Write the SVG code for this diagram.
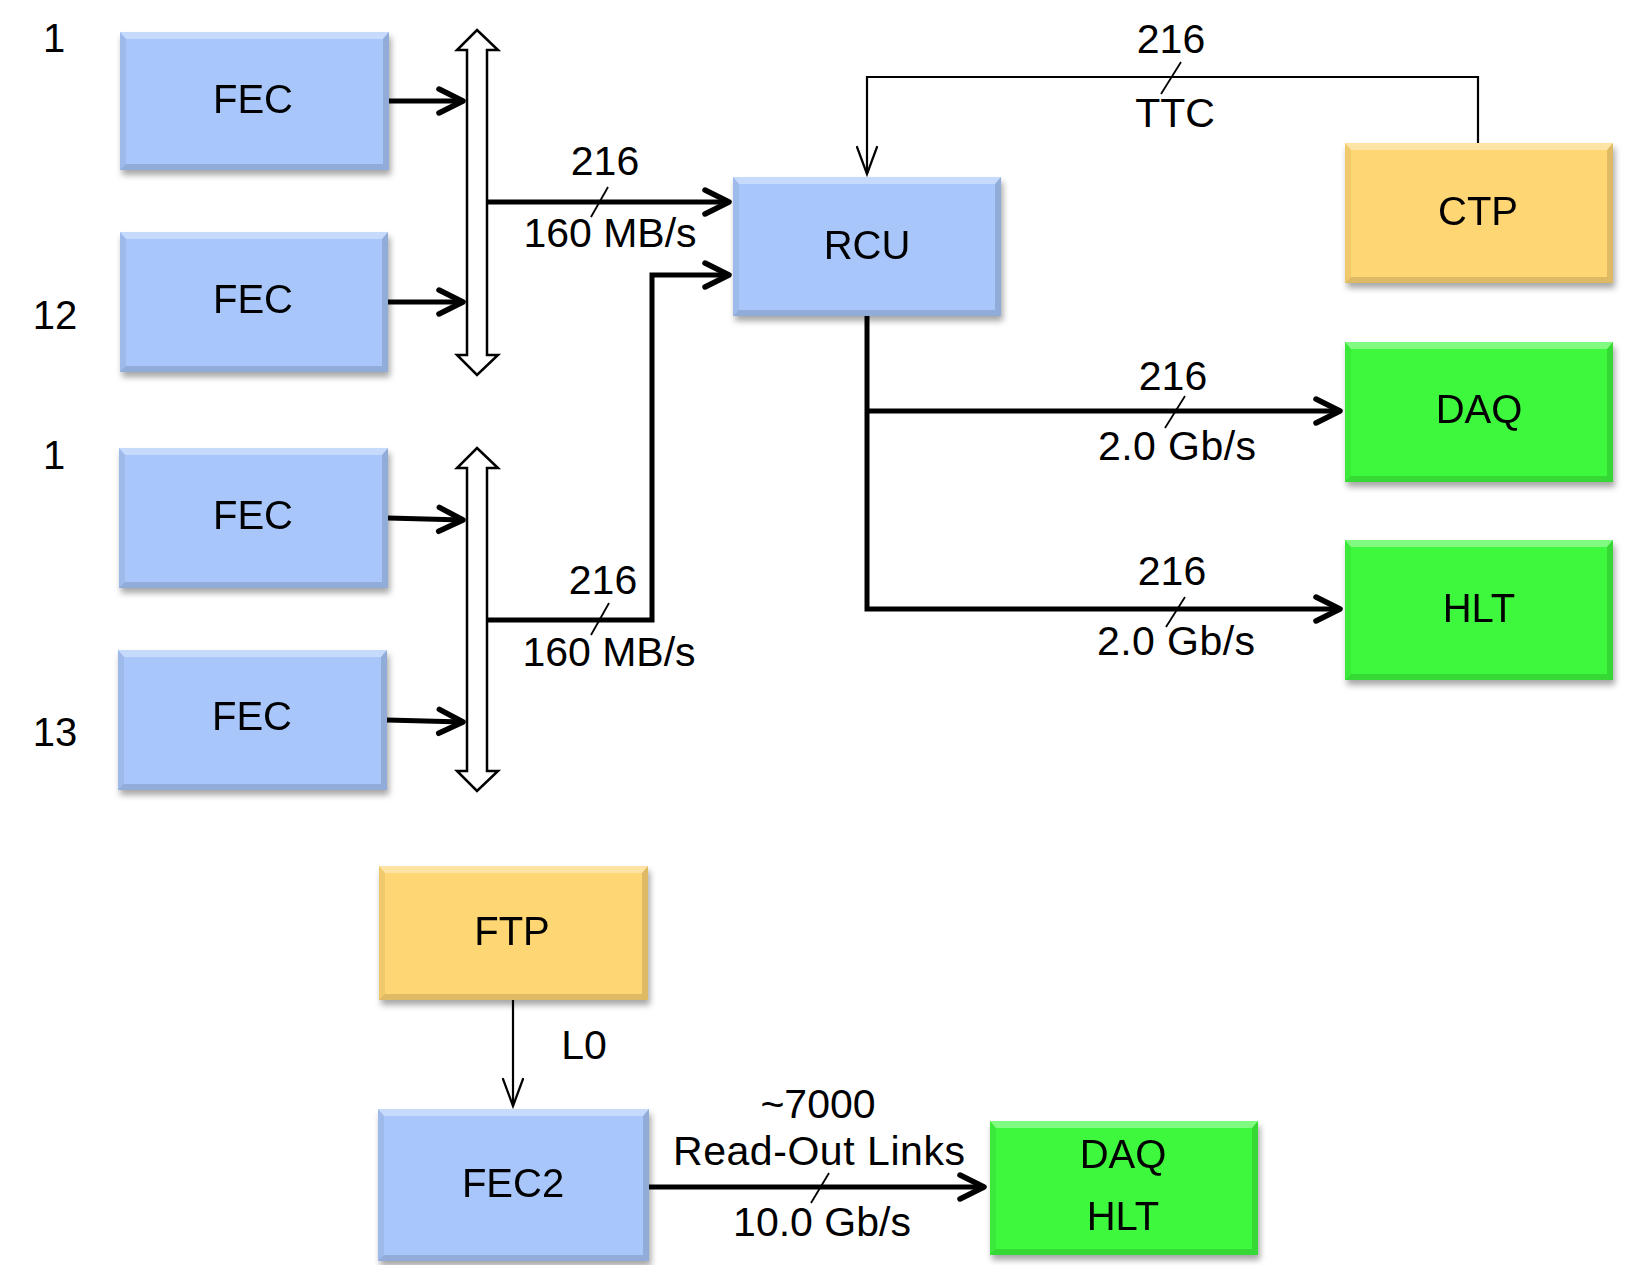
<svg xmlns="http://www.w3.org/2000/svg" width="1632" height="1265" viewBox="0 0 1632 1265">
<style>
text{font-family:"Liberation Sans",Arial,sans-serif;fill:#000}
.nl{font-size:40px;text-anchor:middle}
.lb{font-size:41px;text-anchor:middle}
.blue{fill:#a8c6fa}
.orange{fill:#fed673}
.green{fill:#3ef83e}
.hi{fill:#ffffff;opacity:0.35}
.dk{fill:#000000;opacity:0.13}
.dl{fill:#000000;opacity:0.06}
.thick{fill:none;stroke:#000;stroke-width:5;stroke-linejoin:miter}
.thin{fill:none;stroke:#000;stroke-width:2.2}
.slash{stroke:#000;stroke-width:1.8}
.bus{fill:#fff;stroke:#000;stroke-width:2.5;stroke-linejoin:miter}
</style>
<defs>
<filter id="sh" x="-10%" y="-10%" width="125%" height="130%">
<feDropShadow dx="2" dy="5" stdDeviation="3" flood-color="#000" flood-opacity="0.35"/>
</filter>
<marker id="ah" markerUnits="userSpaceOnUse" viewBox="-32 -18 38 36" markerWidth="38" markerHeight="36" refX="0" refY="0" orient="auto">
<path d="M-24,-12 L0,0 L-24,12" fill="none" stroke="#000" stroke-width="5.5" stroke-linecap="round" stroke-linejoin="round"/>
</marker>
<marker id="ahs" markerUnits="userSpaceOnUse" viewBox="-32 -14 36 28" markerWidth="36" markerHeight="28" refX="0" refY="0" orient="auto">
<path d="M-27,-10 L0,0 L-27,10" fill="none" stroke="#000" stroke-width="2.2" stroke-linecap="round"/>
</marker>
</defs>
<rect width="1632" height="1265" fill="#fff"/>

<g id="side-labels">
<text class="nl" x="54" y="52">1</text>
<text class="nl" x="55" y="329">12</text>
<text class="nl" x="54" y="469">1</text>
<text class="nl" x="55" y="746">13</text>
</g>

<g id="connectors">
<path class="thick" d="M389,101 L463,101" marker-end="url(#ah)"/>
<path class="thick" d="M388,302 L463,302" marker-end="url(#ah)"/>
<path class="thick" d="M388,518 L463,520" marker-end="url(#ah)"/>
<path class="thick" d="M387,720 L463,722" marker-end="url(#ah)"/>
<path class="thick" d="M487,202 L729,202" marker-end="url(#ah)"/>
<path class="thick" d="M487,620 L652,620 L652,275 L729,275" marker-end="url(#ah)"/>
<path class="thin" d="M1478,143 L1478,77 L867,77 L867,174" marker-end="url(#ahs)"/>
<path class="thick" d="M867,316 L867,609 L1340,609" marker-end="url(#ah)"/>
<path class="thick" d="M867,411 L1340,411" marker-end="url(#ah)"/>
<path class="thin" d="M513,1000 L513,1106" marker-end="url(#ahs)"/>
<path class="thick" d="M649,1187 L984,1187" marker-end="url(#ah)"/>
<line class="slash" x1="608" y1="187" x2="591" y2="217"/>
<line class="slash" x1="609" y1="603" x2="591" y2="635"/>
<line class="slash" x1="1181" y1="62" x2="1161" y2="94"/>
<line class="slash" x1="1185" y1="396" x2="1165" y2="428"/>
<line class="slash" x1="1185" y1="597" x2="1166" y2="627"/>
<line class="slash" x1="829" y1="1173" x2="811" y2="1203"/>
<text class="lb" x="605" y="175">216</text>
<text class="lb" x="610" y="247">160 MB/s</text>
<text class="lb" x="603" y="594">216</text>
<text class="lb" x="609" y="666">160 MB/s</text>
<text class="lb" x="1171" y="53">216</text>
<text class="lb" x="1175" y="127">TTC</text>
<text class="lb" x="1173" y="390">216</text>
<text class="lb" x="1177" y="460" textLength="158" lengthAdjust="spacing">2.0 Gb/s</text>
<text class="lb" x="1172" y="585">216</text>
<text class="lb" x="1176" y="655" textLength="158" lengthAdjust="spacing">2.0 Gb/s</text>
<text class="lb" x="584" y="1059">L0</text>
<text class="lb" x="818" y="1118">~7000</text>
<text class="lb" x="819" y="1165" textLength="292" lengthAdjust="spacing">Read-Out Links</text>
<text class="lb" x="822" y="1236">10.0 Gb/s</text>
</g>

<g id="bus1">
<path class="bus" d="M477,30 L498,50 L487,50 L487,355 L498,355 L477,375 L457,355 L467,355 L467,50 L457,50 Z"/>
</g>
<g id="bus2">
<path class="bus" d="M477,448 L498,468 L487,468 L487,771 L498,771 L477,791 L457,771 L467,771 L467,468 L457,468 Z"/>
</g>

<g id="fec1" filter="url(#sh)">
<rect class="blue" x="120" y="32" width="269" height="138"/>
<path class="hi" d="M120,32 H389 L383,39 H126 Z"/>
<path class="dk" d="M389,32 V170 L383,164 V39 Z"/>
<path class="dk" d="M120,170 H389 L383,164 H126 Z"/>
<path class="dl" d="M120,32 V170 L126,164 V39 Z"/>
<text class="nl" x="253" y="113">FEC</text>
</g>
<g id="fec2" filter="url(#sh)">
<rect class="blue" x="120" y="232" width="268" height="140"/>
<path class="hi" d="M120,232 H388 L382,239 H126 Z"/>
<path class="dk" d="M388,232 V372 L382,366 V239 Z"/>
<path class="dk" d="M120,372 H388 L382,366 H126 Z"/>
<path class="dl" d="M120,232 V372 L126,366 V239 Z"/>
<text class="nl" x="253" y="313">FEC</text>
</g>
<g id="fec3" filter="url(#sh)">
<rect class="blue" x="119" y="448" width="269" height="140"/>
<path class="hi" d="M119,448 H388 L382,455 H125 Z"/>
<path class="dk" d="M388,448 V588 L382,582 V455 Z"/>
<path class="dk" d="M119,588 H388 L382,582 H125 Z"/>
<path class="dl" d="M119,448 V588 L125,582 V455 Z"/>
<text class="nl" x="253" y="529">FEC</text>
</g>
<g id="fec4" filter="url(#sh)">
<rect class="blue" x="118" y="650" width="269" height="140"/>
<path class="hi" d="M118,650 H387 L381,657 H124 Z"/>
<path class="dk" d="M387,650 V790 L381,784 V657 Z"/>
<path class="dk" d="M118,790 H387 L381,784 H124 Z"/>
<path class="dl" d="M118,650 V790 L124,784 V657 Z"/>
<text class="nl" x="252" y="730">FEC</text>
</g>
<g id="rcu" filter="url(#sh)">
<rect class="blue" x="733" y="177" width="268" height="139"/>
<path class="hi" d="M733,177 H1001 L995,184 H739 Z"/>
<path class="dk" d="M1001,177 V316 L995,310 V184 Z"/>
<path class="dk" d="M733,316 H1001 L995,310 H739 Z"/>
<path class="dl" d="M733,177 V316 L739,310 V184 Z"/>
<text class="nl" x="867" y="259">RCU</text>
</g>
<g id="ctp" filter="url(#sh)">
<rect class="orange" x="1345" y="143" width="268" height="140"/>
<path class="hi" d="M1345,143 H1613 L1607,150 H1351 Z"/>
<path class="dk" d="M1613,143 V283 L1607,277 V150 Z"/>
<path class="dk" d="M1345,283 H1613 L1607,277 H1351 Z"/>
<path class="dl" d="M1345,143 V283 L1351,277 V150 Z"/>
<text class="nl" x="1478" y="225">CTP</text>
</g>
<g id="daq" filter="url(#sh)">
<rect class="green" x="1345" y="342" width="268" height="140"/>
<path class="hi" d="M1345,342 H1613 L1607,349 H1351 Z"/>
<path class="dk" d="M1613,342 V482 L1607,476 V349 Z"/>
<path class="dk" d="M1345,482 H1613 L1607,476 H1351 Z"/>
<path class="dl" d="M1345,342 V482 L1351,476 V349 Z"/>
<text class="nl" x="1479" y="423">DAQ</text>
</g>
<g id="hlt" filter="url(#sh)">
<rect class="green" x="1345" y="540" width="268" height="140"/>
<path class="hi" d="M1345,540 H1613 L1607,547 H1351 Z"/>
<path class="dk" d="M1613,540 V680 L1607,674 V547 Z"/>
<path class="dk" d="M1345,680 H1613 L1607,674 H1351 Z"/>
<path class="dl" d="M1345,540 V680 L1351,674 V547 Z"/>
<text class="nl" x="1479" y="622">HLT</text>
</g>
<g id="ftp" filter="url(#sh)">
<rect class="orange" x="379" y="866" width="269" height="134"/>
<path class="hi" d="M379,866 H648 L642,873 H385 Z"/>
<path class="dk" d="M648,866 V1000 L642,994 V873 Z"/>
<path class="dk" d="M379,1000 H648 L642,994 H385 Z"/>
<path class="dl" d="M379,866 V1000 L385,994 V873 Z"/>
<text class="nl" x="512" y="945">FTP</text>
</g>
<g id="fec2b" filter="url(#sh)">
<rect class="blue" x="378" y="1109" width="271" height="152"/>
<path class="hi" d="M378,1109 H649 L643,1116 H384 Z"/>
<path class="dk" d="M649,1109 V1261 L643,1255 V1116 Z"/>
<path class="dk" d="M378,1261 H649 L643,1255 H384 Z"/>
<path class="dl" d="M378,1109 V1261 L384,1255 V1116 Z"/>
<text class="nl" x="513" y="1197">FEC2</text>
</g>
<g id="daqhlt" filter="url(#sh)">
<rect class="green" x="990" y="1121" width="268" height="134"/>
<path class="hi" d="M990,1121 H1258 L1252,1128 H996 Z"/>
<path class="dk" d="M1258,1121 V1255 L1252,1249 V1128 Z"/>
<path class="dk" d="M990,1255 H1258 L1252,1249 H996 Z"/>
<path class="dl" d="M990,1121 V1255 L996,1249 V1128 Z"/>
<text class="nl" x="1123" y="1168">DAQ</text>
<text class="nl" x="1123" y="1230">HLT</text>
</g>
</svg>
